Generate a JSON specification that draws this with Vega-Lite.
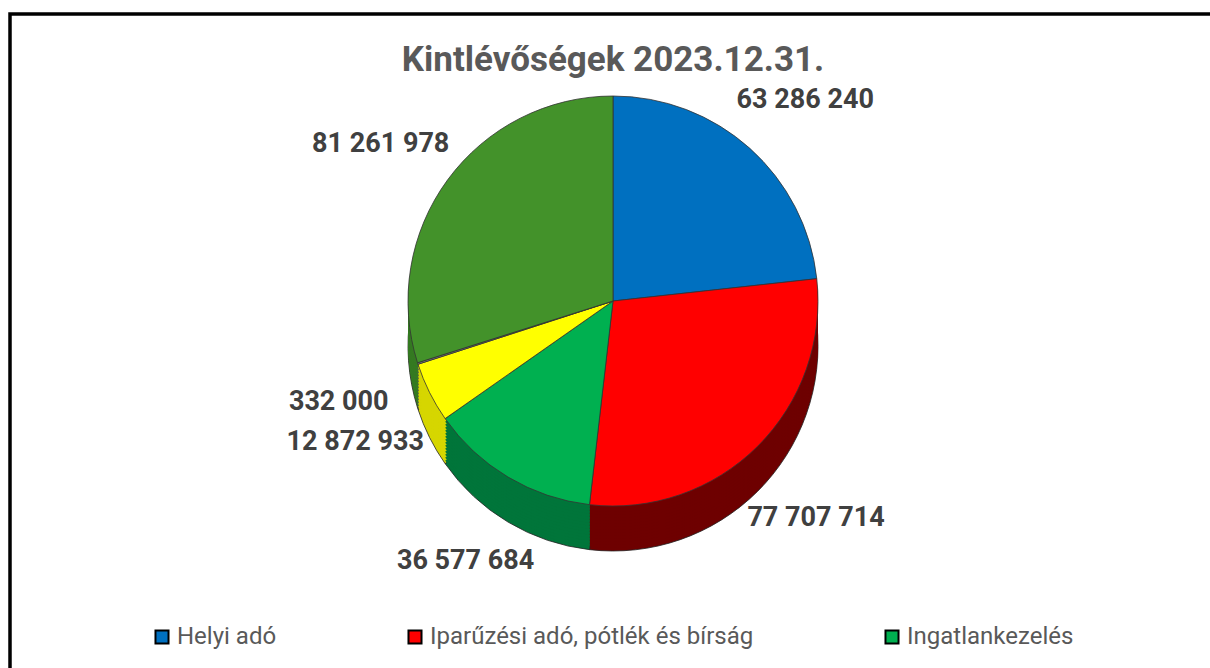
{
  "$schema": "https://vega.github.io/schema/vega-lite/v6.json",
  "width": 1210,
  "height": 668,
  "autosize": {"type": "fit", "contains": "padding"},
  "padding": {"left": 10, "top": 14, "right": -6, "bottom": -6},
  "background": "white",
  "view": {"stroke": "#000000", "strokeWidth": 3.5},
  "title": {
    "text": "Kintlévőségek 2023.12.31.",
    "offset": -64,
    "fontSize": 35,
    "font": "Roboto",
    "fontWeight": "bold",
    "color": "#595959",
    "anchor": "middle"
  },
  "data": {
    "values": [
      {"kategoria": "Helyi adó", "osszeg": 63286240, "sorrend": 1},
      {"kategoria": "Iparűzési adó, pótlék és bírság", "osszeg": 77707714, "sorrend": 2},
      {"kategoria": "Ingatlankezelés", "osszeg": 36577684, "sorrend": 3},
      {"kategoria": "Egyéb követelés", "osszeg": 12872933, "sorrend": 4},
      {"kategoria": "Egyéb tétel", "osszeg": 332000, "sorrend": 5},
      {"kategoria": "Vevőkövetelés", "osszeg": 81261978, "sorrend": 6}
    ]
  },
  "encoding": {
    "theta": {"field": "osszeg", "type": "quantitative", "stack": true},
    "order": {"field": "sorrend", "type": "quantitative"}
  },
  "layer": [
    {"mark": {"type": "arc", "outerRadius": 205, "yOffset": 2, "stroke": "#222222", "strokeWidth": 0.8},
     "encoding": {"color": {"field": "kategoria", "type": "nominal", "legend": null,
       "scale": {"domain": ["Helyi adó", "Iparűzési adó, pótlék és bírság", "Ingatlankezelés", "Egyéb követelés", "Egyéb tétel", "Vevőkövetelés"],
                 "range": ["#00508a", "#6e0000", "#00753a", "#d6d600", "#555555", "#357a22"]}}}},
    {"mark": {"type": "arc", "outerRadius": 205, "yOffset": -1},
     "encoding": {"color": {"field": "kategoria", "type": "nominal", "legend": null,
       "scale": {"domain": ["Helyi adó", "Iparűzési adó, pótlék és bírság", "Ingatlankezelés", "Egyéb követelés", "Egyéb tétel", "Vevőkövetelés"],
                 "range": ["#00508a", "#6e0000", "#00753a", "#d6d600", "#555555", "#357a22"]}}}},
    {"mark": {"type": "arc", "outerRadius": 205, "yOffset": -4},
     "encoding": {"color": {"field": "kategoria", "type": "nominal", "legend": null,
       "scale": {"domain": ["Helyi adó", "Iparűzési adó, pótlék és bírság", "Ingatlankezelés", "Egyéb követelés", "Egyéb tétel", "Vevőkövetelés"],
                 "range": ["#00508a", "#6e0000", "#00753a", "#d6d600", "#555555", "#357a22"]}}}},
    {"mark": {"type": "arc", "outerRadius": 205, "yOffset": -7},
     "encoding": {"color": {"field": "kategoria", "type": "nominal", "legend": null,
       "scale": {"domain": ["Helyi adó", "Iparűzési adó, pótlék és bírság", "Ingatlankezelés", "Egyéb követelés", "Egyéb tétel", "Vevőkövetelés"],
                 "range": ["#00508a", "#6e0000", "#00753a", "#d6d600", "#555555", "#357a22"]}}}},
    {"mark": {"type": "arc", "outerRadius": 205, "yOffset": -10},
     "encoding": {"color": {"field": "kategoria", "type": "nominal", "legend": null,
       "scale": {"domain": ["Helyi adó", "Iparűzési adó, pótlék és bírság", "Ingatlankezelés", "Egyéb követelés", "Egyéb tétel", "Vevőkövetelés"],
                 "range": ["#00508a", "#6e0000", "#00753a", "#d6d600", "#555555", "#357a22"]}}}},
    {"mark": {"type": "arc", "outerRadius": 205, "yOffset": -13},
     "encoding": {"color": {"field": "kategoria", "type": "nominal", "legend": null,
       "scale": {"domain": ["Helyi adó", "Iparűzési adó, pótlék és bírság", "Ingatlankezelés", "Egyéb követelés", "Egyéb tétel", "Vevőkövetelés"],
                 "range": ["#00508a", "#6e0000", "#00753a", "#d6d600", "#555555", "#357a22"]}}}},
    {"mark": {"type": "arc", "outerRadius": 205, "yOffset": -16},
     "encoding": {"color": {"field": "kategoria", "type": "nominal", "legend": null,
       "scale": {"domain": ["Helyi adó", "Iparűzési adó, pótlék és bírság", "Ingatlankezelés", "Egyéb követelés", "Egyéb tétel", "Vevőkövetelés"],
                 "range": ["#00508a", "#6e0000", "#00753a", "#d6d600", "#555555", "#357a22"]}}}},
    {"mark": {"type": "arc", "outerRadius": 205, "yOffset": -19},
     "encoding": {"color": {"field": "kategoria", "type": "nominal", "legend": null,
       "scale": {"domain": ["Helyi adó", "Iparűzési adó, pótlék és bírság", "Ingatlankezelés", "Egyéb követelés", "Egyéb tétel", "Vevőkövetelés"],
                 "range": ["#00508a", "#6e0000", "#00753a", "#d6d600", "#555555", "#357a22"]}}}},
    {"mark": {"type": "arc", "outerRadius": 205, "yOffset": -22},
     "encoding": {"color": {"field": "kategoria", "type": "nominal", "legend": null,
       "scale": {"domain": ["Helyi adó", "Iparűzési adó, pótlék és bírság", "Ingatlankezelés", "Egyéb követelés", "Egyéb tétel", "Vevőkövetelés"],
                 "range": ["#00508a", "#6e0000", "#00753a", "#d6d600", "#555555", "#357a22"]}}}},
    {"mark": {"type": "arc", "outerRadius": 205, "yOffset": -25},
     "encoding": {"color": {"field": "kategoria", "type": "nominal", "legend": null,
       "scale": {"domain": ["Helyi adó", "Iparűzési adó, pótlék és bírság", "Ingatlankezelés", "Egyéb követelés", "Egyéb tétel", "Vevőkövetelés"],
                 "range": ["#00508a", "#6e0000", "#00753a", "#d6d600", "#555555", "#357a22"]}}}},
    {"mark": {"type": "arc", "outerRadius": 205, "yOffset": -28},
     "encoding": {"color": {"field": "kategoria", "type": "nominal", "legend": null,
       "scale": {"domain": ["Helyi adó", "Iparűzési adó, pótlék és bírság", "Ingatlankezelés", "Egyéb követelés", "Egyéb tétel", "Vevőkövetelés"],
                 "range": ["#00508a", "#6e0000", "#00753a", "#d6d600", "#555555", "#357a22"]}}}},
    {"mark": {"type": "arc", "outerRadius": 205, "yOffset": -31},
     "encoding": {"color": {"field": "kategoria", "type": "nominal", "legend": null,
       "scale": {"domain": ["Helyi adó", "Iparűzési adó, pótlék és bírság", "Ingatlankezelés", "Egyéb követelés", "Egyéb tétel", "Vevőkövetelés"],
                 "range": ["#00508a", "#6e0000", "#00753a", "#d6d600", "#555555", "#357a22"]}}}},
    {"mark": {"type": "arc", "outerRadius": 205, "yOffset": -34},
     "encoding": {"color": {"field": "kategoria", "type": "nominal", "legend": null,
       "scale": {"domain": ["Helyi adó", "Iparűzési adó, pótlék és bírság", "Ingatlankezelés", "Egyéb követelés", "Egyéb tétel", "Vevőkövetelés"],
                 "range": ["#00508a", "#6e0000", "#00753a", "#d6d600", "#555555", "#357a22"]}}}},
    {"mark": {"type": "arc", "outerRadius": 205, "yOffset": -37},
     "encoding": {"color": {"field": "kategoria", "type": "nominal", "legend": null,
       "scale": {"domain": ["Helyi adó", "Iparűzési adó, pótlék és bírság", "Ingatlankezelés", "Egyéb követelés", "Egyéb tétel", "Vevőkövetelés"],
                 "range": ["#00508a", "#6e0000", "#00753a", "#d6d600", "#555555", "#357a22"]}}}},
    {"mark": {"type": "arc", "outerRadius": 205, "yOffset": -40},
     "encoding": {"color": {"field": "kategoria", "type": "nominal", "legend": null,
       "scale": {"domain": ["Helyi adó", "Iparűzési adó, pótlék és bírság", "Ingatlankezelés", "Egyéb követelés", "Egyéb tétel", "Vevőkövetelés"],
                 "range": ["#00508a", "#6e0000", "#00753a", "#d6d600", "#555555", "#357a22"]}}}},
    {"mark": {"type": "arc", "outerRadius": 205, "yOffset": -43, "stroke": "#333333", "strokeWidth": 0.8},
     "encoding": {"color": {"field": "kategoria", "type": "nominal",
       "scale": {"domain": ["Helyi adó", "Iparűzési adó, pótlék és bírság", "Ingatlankezelés", "Egyéb követelés", "Egyéb tétel", "Vevőkövetelés"],
                 "range": ["#0070c0", "#ff0000", "#00b050", "#ffff00", "#7f7f7f", "#43922a"]},
       "legend": {
         "values": ["Helyi adó", "Iparűzési adó, pótlék és bírság", "Ingatlankezelés"],
         "title": null,
         "orient": "none",
         "legendX": 140,
         "legendY": 611,
         "direction": "horizontal",
         "columnPadding": 126,
         "symbolType": "square",
         "symbolSize": 170,
         "symbolStrokeColor": "black",
         "symbolStrokeWidth": 2,
         "labelFontSize": 24,
         "labelFont": "Roboto",
         "labelColor": "#595959",
         "labelOffset": 3,
         "labelLimit": 500
       }}}},
    {"mark": {"type": "text", "radius": 288, "yOffset": -30, "fontSize": 27, "font": "Roboto", "fontWeight": "bold", "fill": "#404040"},
     "encoding": {"text": {"field": "osszeg", "type": "quantitative", "format": ",d"}}}
  ],
  "resolve": {"scale": {"color": "independent"}, "legend": {"color": "independent"}},
  "config": {
    "locale": {"number": {"decimal": ",", "thousands": " ", "grouping": [3], "currency": ["", " Ft"]}}
  }
}
